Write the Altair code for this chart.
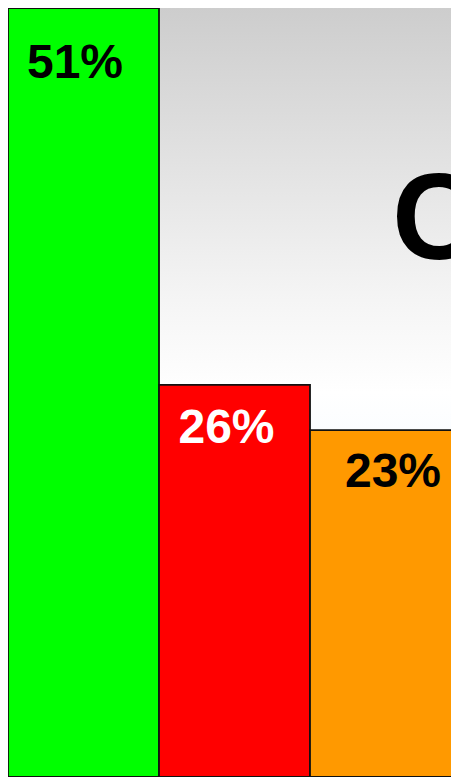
import altair as alt
import pandas as pd

# Data
categories = ["A", "B", "C"]
values = [51, 26, 23]
labels = ["51%", "26%", "23%"]
bar_colors = ["#00ff00", "#ff0000", "#ff9900"]
label_colors = ["#000000", "#ffffff", "#000000"]
title_text = "C"

W, H = 443, 769

df = pd.DataFrame({"cat": categories, "value": values, "label": labels})

xscale = alt.Scale(domain=categories, range=[0, 453], paddingInner=0, paddingOuter=0)
yscale = alt.Scale(domain=[0, 51], nice=False, zero=True)

bg = alt.Chart(pd.DataFrame({"k": [0]})).mark_rect(
    clip=True,
    fill=alt.Gradient(
        gradient="linear",
        x1=0, x2=0, y1=0, y2=1,
        stops=[
            alt.GradientStop(color="#cdcdcd", offset=0),
            alt.GradientStop(color="#f5f5f5", offset=0.38),
            alt.GradientStop(color="#ffffff", offset=0.5),
            alt.GradientStop(color="#d6eafd", offset=1),
        ],
    ),
).encode(x=alt.value(0), x2=alt.value(W), y=alt.value(0), y2=alt.value(H))

title = alt.Chart(pd.DataFrame({"t": [title_text]})).mark_text(
    font="Liberation Sans", fontWeight="bold", fontSize=122, align="left",
    baseline="alphabetic", color="#000000", clip=True,
).encode(x=alt.value(384), y=alt.value(251), text="t:N")

bars = alt.Chart(df).mark_bar(stroke="#111111", strokeWidth=1.8, clip=True).encode(
    x=alt.X("cat:N", scale=xscale, axis=None, sort=categories),
    y=alt.Y("value:Q", scale=yscale, axis=None),
    color=alt.Color("cat:N", scale=alt.Scale(domain=categories, range=bar_colors), legend=None),
)

offsets = [(-8.5, 70), (-8, 58), (7.5, 57)]
text_layers = []
for i, (dx, dy) in enumerate(offsets):
    t = alt.Chart(df).transform_filter(alt.datum.cat == categories[i]).mark_text(
        font="Liberation Sans", fontWeight="bold", fontSize=48, align="center",
        baseline="alphabetic", color=label_colors[i], dx=dx, dy=dy, clip=True,
    ).encode(
        x=alt.X("cat:N", scale=xscale, axis=None, sort=categories),
        y=alt.Y("value:Q", scale=yscale, axis=None),
        text="label:N",
    )
    text_layers.append(t)

chart = alt.layer(bg, title, bars, *text_layers).properties(
    width=W, height=H, padding=0,
    autosize=alt.AutoSizeParams(type="none"),
).configure_view(stroke=None).configure(background="#ffffff")

chart.save("out.html", embed_options={"renderer": "svg", "actions": False})
